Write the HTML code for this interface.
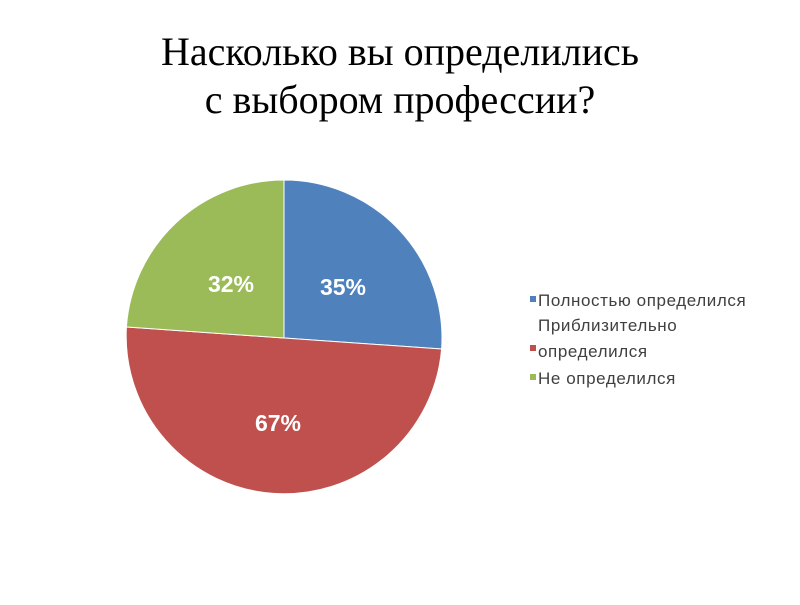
<!DOCTYPE html>
<html><head><meta charset="utf-8"><style>
body{margin:0;background:#fff;width:800px;height:600px;overflow:hidden}
</style></head><body>
<svg width="800" height="600" xmlns="http://www.w3.org/2000/svg">
<text x="400" y="65" text-anchor="middle" font-family="Liberation Serif, serif" font-size="40" fill="#000">Насколько вы определились</text>
<text x="400" y="113" text-anchor="middle" font-family="Liberation Serif, serif" font-size="40" fill="#000">с выбором профессии?</text>
<path d="M284,338 L284,180 A158,158 0 0 1 441.6,349 Z" fill="#4f81bd" stroke="#fff" stroke-width="1"/>
<path d="M284,338 L441.6,349 A158,158 0 0 1 126.4,327 Z" fill="#c0504d" stroke="#fff" stroke-width="1"/>
<path d="M284,338 L126.4,327 A158,158 0 0 1 284,180 Z" fill="#9bbb59" stroke="#fff" stroke-width="1"/>
<g font-family="Liberation Sans, sans-serif" font-weight="bold" font-size="23" fill="#fff" text-anchor="middle">
<text x="343" y="295">35%</text>
<text x="231" y="292">32%</text>
<text x="278" y="431">67%</text>
</g>
<g font-family="Liberation Sans, sans-serif" font-size="17" letter-spacing="0.6" fill="#404040">
<rect x="530" y="296" width="6" height="6" fill="#4f81bd"/>
<text x="538" y="306">Полностью определился</text>
<rect x="530" y="345" width="6" height="6" fill="#c0504d"/>
<text x="538" y="331">Приблизительно</text>
<text x="538" y="357">определился</text>
<rect x="530" y="374" width="6" height="6" fill="#9bbb59"/>
<text x="538" y="384">Не определился</text>
</g>
</svg>
</body></html>
